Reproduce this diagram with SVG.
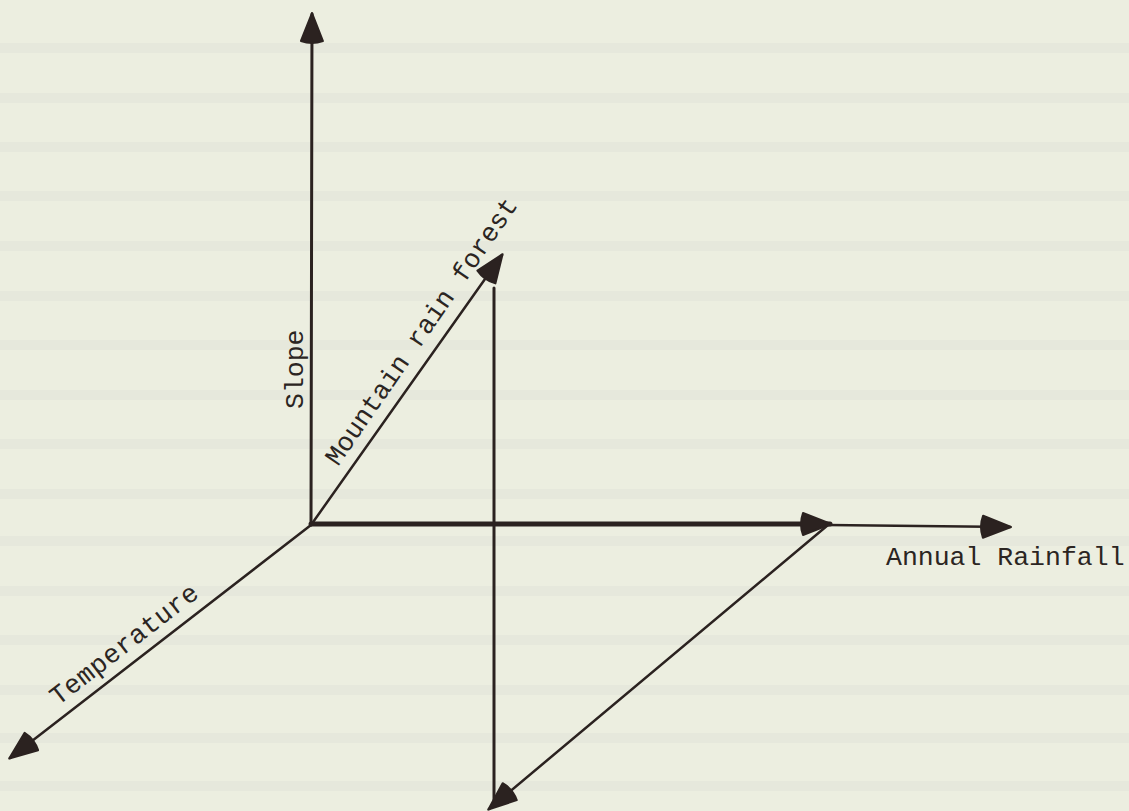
<svg xmlns="http://www.w3.org/2000/svg" width="1129" height="811" viewBox="0 0 1129 811">
  <style>
    .ax { stroke: #2b2220; fill: none; stroke-linecap: round; }
    .lbl { font-family: "Liberation Mono", "DejaVu Sans Mono", monospace; font-size: 26.5px; fill: #2b2522; }
    .band { stroke: #dfe1d6; stroke-width: 10; stroke-opacity: 0.45; }
  </style>
  <defs>
    <marker id="ah" markerUnits="userSpaceOnUse" orient="auto" refX="0" refY="0" markerWidth="40" markerHeight="40" overflow="visible">
      <path d="M1,0 L-27,-11 Q-31,0 -27,11 Z" fill="#2b2220" stroke="#2b2220" stroke-width="2" stroke-linejoin="round"/>
    </marker>
  </defs>
  <rect id="paper" x="0" y="0" width="1129" height="811" fill="#eceee0"/>
  <g id="bands">
    <line class="band" x1="0" y1="48" x2="1129" y2="48"/>
    <line class="band" x1="0" y1="98" x2="1129" y2="98"/>
    <line class="band" x1="0" y1="147" x2="1129" y2="147"/>
    <line class="band" x1="0" y1="196" x2="1129" y2="196"/>
    <line class="band" x1="0" y1="246" x2="1129" y2="246"/>
    <line class="band" x1="0" y1="296" x2="1129" y2="296"/>
    <line class="band" x1="0" y1="345" x2="1129" y2="345"/>
    <line class="band" x1="0" y1="395" x2="1129" y2="395"/>
    <line class="band" x1="0" y1="444" x2="1129" y2="444"/>
    <line class="band" x1="0" y1="494" x2="1129" y2="494"/>
    <line class="band" x1="0" y1="541" x2="1129" y2="541"/>
    <line class="band" x1="0" y1="591" x2="1129" y2="591"/>
    <line class="band" x1="0" y1="640" x2="1129" y2="640"/>
    <line class="band" x1="0" y1="690" x2="1129" y2="690"/>
    <line class="band" x1="0" y1="738" x2="1129" y2="738"/>
    <line class="band" x1="0" y1="786" x2="1129" y2="786"/>
  </g>
  <g id="connectors">
    <line id="slope-axis" class="ax" x1="311" y1="525" x2="312" y2="14" stroke-width="3" marker-end="url(#ah)"/>
    <line id="forest-axis" class="ax" x1="311" y1="525" x2="502" y2="255" stroke-width="2.5" marker-end="url(#ah)"/>
    <line id="rain-thick" class="ax" x1="311" y1="524" x2="830" y2="524" stroke-width="5" marker-end="url(#ah)"/>
    <line id="rain-thin" class="ax" x1="828" y1="525" x2="1010" y2="527" stroke-width="2.5" marker-end="url(#ah)"/>
    <line id="temp-axis" class="ax" x1="311" y1="525" x2="10" y2="758" stroke-width="2.5" marker-end="url(#ah)"/>
    <line id="drop" class="ax" x1="494" y1="288" x2="494" y2="800" stroke-width="3"/>
    <line id="return" class="ax" x1="828" y1="525" x2="489" y2="809" stroke-width="2.5" marker-end="url(#ah)"/>
  </g>
  <g id="label-slope">
    <text class="lbl" transform="translate(303,409) rotate(-90)">Slope</text>
  </g>
  <g id="label-forest">
    <text class="lbl" transform="translate(338,467) rotate(-55.4)">Mountain rain forest</text>
  </g>
  <g id="label-rainfall">
    <text class="lbl" x="886" y="565">Annual Rainfall</text>
  </g>
  <g id="label-temperature">
    <text class="lbl" transform="translate(58,706) rotate(-37.7)" textLength="180" lengthAdjust="spacing">Temperature</text>
  </g>
</svg>
